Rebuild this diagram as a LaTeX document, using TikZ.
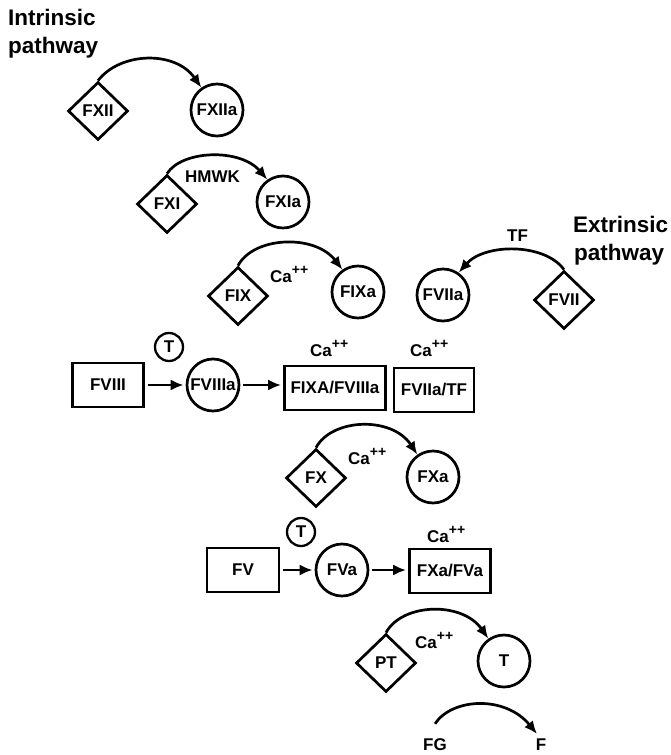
\documentclass[tikz,border=0pt]{standalone}
\usepackage{fontspec}
\setmainfont{Liberation Sans}
\usetikzlibrary{shapes.geometric,arrows.meta}
\newcommand\caplus{Ca\raisebox{8pt}{\fontsize{14}{14}\selectfont ++}}
\begin{document}
\begin{tikzpicture}[x=1pt,y=-1pt,
 every node/.style={font=\fontsize{17}{17}\selectfont\bfseries, inner sep=0pt},
 dia/.style={diamond, draw, line width=2.7pt, minimum width=60pt, minimum height=58pt},
 circ/.style={circle, draw, line width=2.7pt, minimum size=52pt},
 tcirc/.style={circle, draw, line width=2.3pt, minimum size=28pt},
 box/.style={rectangle, draw, line width=2.7pt, minimum height=44pt},
 conn/.style={line width=2.7pt, -{Latex[length=13pt,width=11pt]}},
 sconn/.style={conn, shorten <=3pt, shorten >=2pt},
 lab/.style={anchor=base west},
 title/.style={anchor=base west, font=\fontsize{22.5}{27}\selectfont\bfseries}]
\useasboundingbox (0,0) rectangle (671,755);
% titles
\node[title] (it1) at (8,25) {Intrinsic};
\node[title] (it2) at (8,53) {pathway};
\node[title] (et1) at (573,232) {Extrinsic};
\node[title] (et2) at (574,260) {pathway};
% top cascade
\node[dia] (fxii) at (98,111) {FXII};
\node[circ] (fxiia) at (217,110) {FXIIa};
\node[dia] (fxi) at (167,204) {FXI};
\node[circ] (fxia) at (283,202) {FXIa};
\node[dia] (fix) at (238,296) {FIX};
\node[circ] (fixa) at (358,292) {FIXa};
\node[circ] (fviia) at (443,295) {FVIIa};
\node[dia] (fvii) at (564,300) {FVII};
\node[lab] (hmwk) at (185,182) {HMWK};
\node[lab] (tf) at (507,241) {TF};
\node[lab] (ca1) at (270,282) {\caplus};
% FVIII row
\node[tcirc] (t1) at (169,347) {T};
\node[box, minimum width=71pt] (fviii) at (108,385) {FVIII};
\node[circ] (fviiia) at (213,385) {FVIIIa};
\node[box, minimum width=101pt] (fixafviiia) at (335,388) {FIXA/FVIIIa};
\node[box, minimum width=80pt] (fviiatf) at (434,390) {FVIIa/TF};
\node[lab] (ca2) at (310,356) {\caplus};
\node[lab] (ca3) at (410,356) {\caplus};
% FX
\node[dia] (fx) at (316,478) {FX};
\node[circ] (fxa) at (433,477) {FXa};
\node[lab] (ca4) at (348,464) {\caplus};
% FV row
\node[tcirc] (t2) at (301,532) {T};
\node[box, minimum width=72pt] (fv) at (243,570) {FV};
\node[circ] (fva) at (342,570) {FVa};
\node[box, minimum width=81pt] (fxafva) at (450,571) {FXa/FVa};
\node[lab] (ca5) at (427,542) {\caplus};
% PT
\node[dia] (pt) at (386,663) {PT};
\node[circ] (t3) at (504,661) {T};
\node[lab] (ca6) at (415,648) {\caplus};
% FG
\node (fg) at (435,745) {FG};
\node (f) at (541,745) {F};
% connectors
\draw[conn] (fxii.north) .. controls (120,52) and (175,50) .. (fxiia.125);
\draw[conn] (fxi.north) .. controls (182,150) and (240,148) .. (fxia.125);
\draw[conn] (fix.north) .. controls (254,236) and (315,234) .. (fixa.125);
\draw[conn] (fvii.north) .. controls (545,243) and (485,243) .. (fviia.55);
\draw[conn] (fx.north) .. controls (332,418) and (392,416) .. (fxa.125);
\draw[conn] (pt.north) .. controls (402,603) and (462,601) .. (t3.125);
\draw[conn] ([yshift=15pt]fg.north) .. controls (452,698) and (505,695) .. ([xshift=-4pt,yshift=5pt]f.north);
\draw[sconn] (fviii.east) -- (fviiia.west);
\draw[sconn] (fviiia.east) -- (fviiia.east -| fixafviiia.west);
\draw[sconn] (fv.east) -- (fva.west);
\draw[sconn] (fva.east) -- (fva.east -| fxafva.west);
\end{tikzpicture}
\end{document}
